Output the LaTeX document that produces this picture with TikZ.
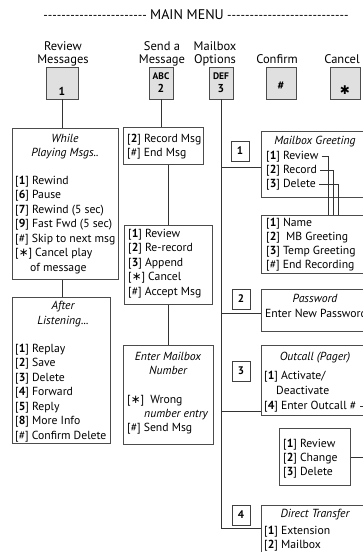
\documentclass[tikz,border=0pt]{standalone}
\usepackage{fontspec}
\usetikzlibrary{calc}
\newfontfamily\mf{PT Sans}
\newfontfamily\djv{DejaVu Sans}
\newcommand\B[1]{\textbf{#1}}
\newcommand\starx{{\djv\char"2217}}
\tikzset{
  conn/.style={draw=black!80, line width=0.7pt},
  box/.style={draw=black!70, line width=0.7pt, rectangle, inner sep=0pt, anchor=north west},
  key/.style={draw=black!70, fill=black!12, line width=0.9pt, rectangle, inner sep=0pt, minimum height=32pt},
  numbox/.style={draw=black!75, line width=0.7pt, rectangle, inner sep=0pt, minimum width=18pt, minimum height=20pt, font=\mf\bfseries\fontsize{11}{12}\selectfont},
  itm/.style={anchor=base west, inner sep=0pt},
  ttl/.style={anchor=base, inner sep=0pt, font=\mf\itshape\fontsize{11.7}{13}\selectfont},
  lbl/.style={anchor=base, inner sep=0pt, font=\mf\fontsize{12.5}{14}\selectfont},
  keytxt/.style={anchor=base, inner sep=0pt, font=\mf\bfseries\fontsize{11.5}{12}\selectfont},
}
\begin{document}
\begin{tikzpicture}[x=1pt,y=-1pt, font=\mf\fontsize{11.7}{13}\selectfont]
\clip (0,0) rectangle (363,552);
\fill[white] (0,0) rectangle (363,552);

% title
\node[lbl, font=\mf\fontsize{14}{15}\selectfont] (title) at (187,19) {MAIN MENU};
\node[anchor=base east, inner sep=0pt, font=\mf\fontsize{12.5}{14}\selectfont] (dl) at ($(title.base west)+(-3,0)$) {-----------------------};
\node[anchor=base west, inner sep=0pt, font=\mf\fontsize{12.5}{14}\selectfont] (dr) at ($(title.base east)+(3,0)$) {---------------------------};

% header labels
\node[lbl] (l1a) at (63,50) {Review};
\node[lbl] (l1b) at (63,63) {Messages};
\node[lbl] (l2a) at (162,50) {Send a};
\node[lbl] (l2b) at (162,63) {Message};
\node[lbl] (l3a) at (215,50) {Mailbox};
\node[lbl] (l3b) at (215,63) {Options};
\node[lbl] (l4) at (277,63) {Confirm};
\node[lbl] (l5) at (342,63) {Cancel};

% keys
\node[key, minimum width=32pt] (k1) at (62,83) {};
\node[key, minimum width=24pt] (k2) at (161,83) {};
\node[key, minimum width=24pt] (k3) at (221,83) {};
\node[key, minimum width=30pt] (k4) at (281,83) {};
\node[key, minimum width=30pt] (k5) at (345,83) {};
\node[keytxt] (t1) at (62,95) {1};
\node[keytxt, font=\mf\bfseries\fontsize{9.5}{10}\selectfont] (t2a) at (161,79) {ABC};
\node[keytxt] (t2b) at (161,92) {2};
\node[keytxt, font=\mf\bfseries\fontsize{9.5}{10}\selectfont] (t3a) at (221,79) {DEF};
\node[keytxt] (t3b) at (221,92) {3};
\node[keytxt] (t4) at (281,89) {\#};
\node[keytxt, font=\djv\bfseries\fontsize{12}{12}\selectfont] (t5) at (345,94) {\char"2731};

% ---------- column 1
\node[box, minimum width=106pt, minimum height=151pt] (wb) at (12,128) {};
\node[ttl] (w0) at (65,142) {While};
\node[ttl] (w00) at (65,156) {Playing Msgs..};
\node[itm] (w1) at (15,184) {[\B1] Rewind};
\node[itm] (w2) at (15,198.5) {[\B6] Pause};
\node[itm] (w3) at (15,213) {[\B7] Rewind (5 sec)};
\node[itm] (w4) at (15,227.5) {[\B9] Fast Fwd (5 sec)};
\node[itm] (w5) at (15,242) {[\#] Skip to next msg};
\node[itm] (w6) at (15,256.5) {[\starx] Cancel play};
\node[itm] (w7) at (30,271) {of message};

\node[box, minimum width=98pt, minimum height=146pt] (ab) at (12,297) {};
\node[ttl] (a0) at (63,309) {After};
\node[ttl] (a00) at (63,324) {Listening...};
\node[itm] (a1) at (15,352) {[\B1] Replay};
\node[itm] (a2) at (15,366.5) {[\B2] Save};
\node[itm] (a3) at (15,381) {[\B3] Delete};
\node[itm] (a4) at (15,395.5) {[\B4] Forward};
\node[itm] (a5) at (15,410) {[\B5] Reply};
\node[itm] (a6) at (15,424.5) {[\B8] More Info};
\node[itm] (a7) at (15,439) {[\#] Confirm Delete};

\draw[conn] (k1.south) -- (k1.south |- wb.north);
\draw[conn] (wb.south -| k1.south) -- (ab.north -| k1.south);

% ---------- column 2
\node[box, minimum width=80pt, minimum height=37pt] (sa) at (123,127) {};
\node[itm] (s1) at (127,142) {[\B2] Record Msg};
\node[itm] (s2) at (127,156) {[\#] End Msg};

\node[box, minimum width=88pt, minimum height=79pt] (sb) at (124,225) {};
\node[itm] (b1) at (128,237) {[\B1] Review};
\node[itm] (b2) at (128,251.5) {[\B2] Re-record};
\node[itm] (b3) at (128,266) {[\B3] Append};
\node[itm] (b4) at (128,280.5) {[\starx] Cancel};
\node[itm] (b5) at (128,295) {[\#] Accept Msg};

\node[box, minimum width=90pt, minimum height=99pt] (sc) at (123,345) {};
\node[ttl] (c0) at (168,360) {Enter Mailbox};
\node[ttl] (c00) at (168,374) {Number};
\node[itm] (c1) at (127,403) {[\starx]\ \ Wrong};
\node[itm, font=\mf\itshape\fontsize{11.7}{13}\selectfont] (c2) at (144,417) {number entry};
\node[itm] (c3) at (127,431) {[\#] Send Msg};

\draw[conn] (k2.south) -- (k2.south |- sa.north);
\draw[conn] (sb.north |- sa.south) -- (sb.north);
\draw[conn] (sc.north |- sb.south) -- (sc.north);

% ---------- column 3
\node[numbox] (n1) at (240,151) {1};
\node[numbox] (n2) at (241,299) {2};
\node[numbox] (n3) at (241,371) {3};
\node[numbox] (n4) at (241,515) {4};

\node[box, minimum width=114pt, minimum height=66pt] (mg) at (261,131) {};
\node[ttl] (g0) at (315,144) {Mailbox Greeting};
\node[itm] (g1) at (266,159) {[\B1] Review};
\node[itm] (g2) at (266,173) {[\B2] Record};
\node[itm] (g3) at (266,187) {[\B3] Delete};

\node[box, minimum width=114pt, minimum height=58pt] (ms) at (261,215) {};
\node[itm] (m1) at (266,226) {[\B1] Name};
\node[itm] (m2) at (266,240) {[\B2]\ \ MB Greeting};
\node[itm] (m3) at (266,254) {[\B3] Temp Greeting};
\node[itm] (m4) at (266,268) {[\#] End Recording};

\node[box, minimum width=114pt, minimum height=42pt] (pw) at (261,289) {};
\node[ttl] (p0) at (315,302) {Password};
\node[itm] (p1) at (265,317) {Enter New Password};

\node[box, minimum width=114pt, minimum height=70pt] (oc) at (261,345) {};
\node[ttl] (o0) at (315,360) {Outcall (Pager)};
\node[itm] (o1) at (264,379) {[\B1] Activate/};
\node[itm] (o2) at (276,394) {Deactivate};
\node[itm] (o3) at (264,409) {[\B4] Enter Outcall \#};

\node[box, minimum width=71pt, minimum height=57pt] (os) at (279,428) {};
\node[itm] (q1) at (283,447) {[\B1] Review};
\node[itm] (q2) at (283,461) {[\B2] Change};
\node[itm] (q3) at (283,475) {[\B3] Delete};

\node[box, minimum width=114pt, minimum height=60pt] (dt) at (261,505) {};
\node[ttl] (d0) at (315,517) {Direct Transfer};
\node[itm] (d1) at (264,534) {[\B1] Extension};
\node[itm] (d2) at (264,548) {[\B2] Mailbox};

\draw[conn] (k3.south) -- (k3.south |- 0,528) -- (dt.west |- 0,528);
\draw[conn] (k3.south |- 0,167) -- (mg.west |- 0,167);
\draw[conn] (k3.south |- 0,313) -- (pw.west |- 0,313);
\draw[conn] (k3.south |- 0,411) -- (oc.west |- 0,411);

\draw[conn] ($(g1.base east)+(3,-3)$) -| (ms.north -| 328,0);
\draw[conn] ($(g2.base east)+(3,-3)$) -| (ms.north -| 333,0);
\draw[conn] ($(g3.base east)+(3,-3)$) -| (ms.north -| 338,0);

\coordinate (rr) at (370,406);
\draw[conn] ($(o3.base east)+(4,-3)$) -- (rr) -- (rr |- os.east) -- (os.east);
\end{tikzpicture}
\end{document}
